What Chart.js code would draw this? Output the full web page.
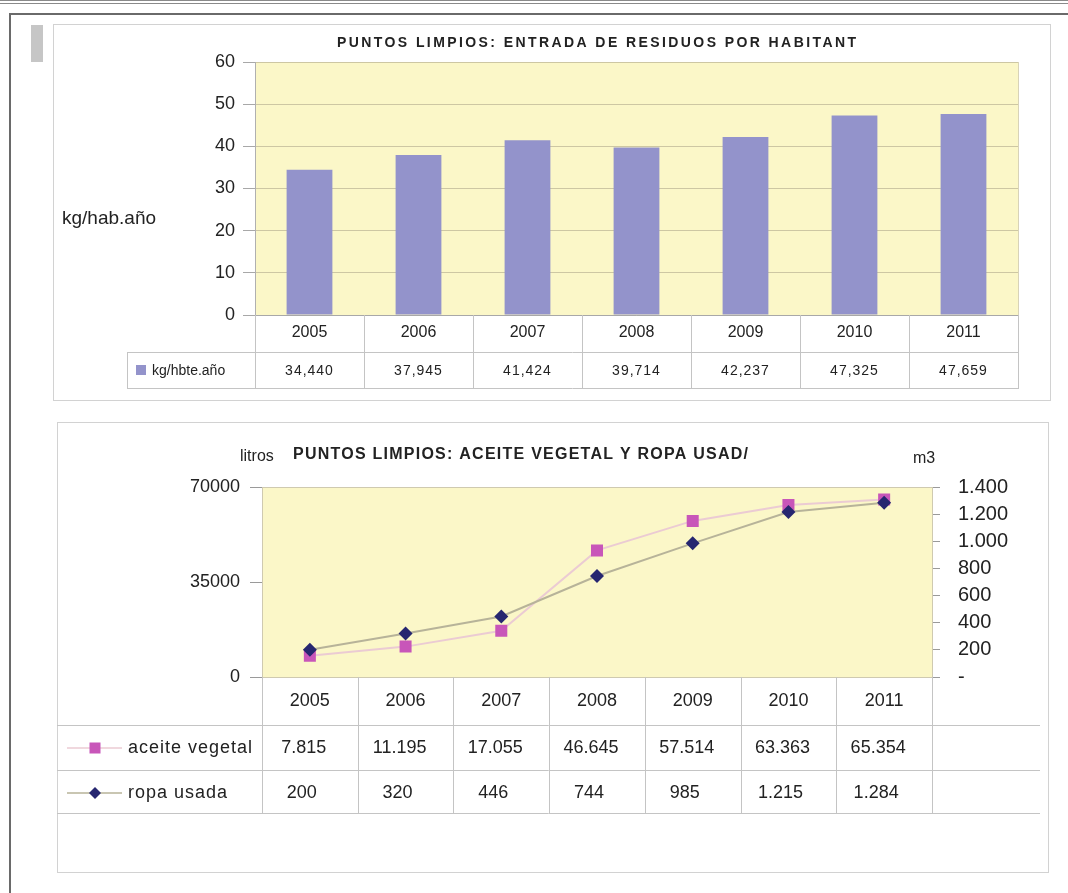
<!DOCTYPE html>
<html>
<head>
<meta charset="utf-8">
<script src="https://cdn.jsdelivr.net/npm/chart.js@4.4.0/dist/chart.umd.min.js"></script>
<style>
body { margin:0; background:#fff; width:1068px; height:893px; position:relative; overflow:hidden; }
#linea { position:absolute; left:0; top:0; width:1068px; height:2px; border-top:1px solid #8a8a8a; border-bottom:1px solid #8a8a8a; }
#marco { position:absolute; left:9px; top:13px; width:1070px; height:900px; border-left:2px solid #6a6a6a; border-top:2px solid #6a6a6a; }
#pestana { position:absolute; left:31px; top:25px; width:12px; height:37px; background:#c6c6c6; }
#caja1 { position:absolute; left:53px; top:24px; width:996px; height:375px; border:1px solid #d2d2d2; }
#caja2 { position:absolute; left:57px; top:422px; width:990px; height:449px; border:1px solid #d2d2d2; }
canvas { position:absolute; left:0; top:0; }
</style>
</head>
<body>
<div id="linea"></div>
<div id="marco"></div>
<div id="pestana"></div>
<div id="caja1"></div>
<div id="caja2"></div>
<canvas id="grafico1" width="1068" height="893"></canvas>
<canvas id="grafico2" width="1068" height="893"></canvas>
<script>
const anios = ['2005', '2006', '2007', '2008', '2009', '2010', '2011'];
const kgHabitante = [34.440, 37.945, 41.424, 39.714, 42.237, 47.325, 47.659];
const ticksKg = [0, 10, 20, 30, 40, 50, 60];
const aceiteVegetal = [7815, 11195, 17055, 46645, 57514, 63363, 65354];
const ropaUsada = [200, 320, 446, 744, 985, 1215, 1284];
const ticksLitros = [0, 35000, 70000];
const ticksM3 = [0, 200, 400, 600, 800, 1000, 1200, 1400];

const FUENTE = 'Arial, "Liberation Sans", sans-serif';
const AMARILLO = '#fbf7c8';
const LINEA_TABLA = '#c4c4c4';

const conComa = v => v.toFixed(3).replace('.', ',');
const conPunto = v => String(v).replace(/\B(?=(\d{3})+(?!\d))/g, '.');

// texto repartido entre x1 y x2 (titulos con espaciado ancho)
function textoAncho(ctx, texto, x1, x2, y) {
    ctx.letterSpacing = '0px';
    const w = ctx.measureText(texto).width;
    const sp = (x2 - x1 - w) / (texto.length - 1);
    ctx.letterSpacing = sp + 'px';
    ctx.textAlign = 'left';
    ctx.fillText(texto, x1, y);
    ctx.letterSpacing = '0px';
}

function linea(ctx, x1, y1, x2, y2) {
    ctx.beginPath();
    ctx.moveTo(x1, y1);
    ctx.lineTo(x2, y2);
    ctx.stroke();
}

const fondo = {
    id: 'fondo',
    beforeDraw(chart) {
        const a = chart.chartArea;
        chart.ctx.save();
        chart.ctx.fillStyle = AMARILLO;
        chart.ctx.fillRect(a.left, a.top, a.right - a.left, a.bottom - a.top);
        chart.ctx.restore();
    }
};

function bordes(x) {
    const paso = x.getPixelForValue(1) - x.getPixelForValue(0);
    const res = anios.map((_, i) => x.getPixelForValue(i) - paso / 2);
    res.push(x.getPixelForValue(anios.length - 1) + paso / 2);
    return res;
}

const tabla1 = {
    id: 'tabla1',
    afterDraw(chart) {
        const ctx = chart.ctx, a = chart.chartArea, x = chart.scales.x;
        const ed = bordes(x);
        ctx.save();
        ctx.lineWidth = 1;
        ctx.strokeStyle = '#a8a8a8';
        linea(ctx, a.left, a.bottom + 0.5, a.right, a.bottom + 0.5);
        ctx.strokeStyle = '#d8d3b8';
        linea(ctx, a.right + 0.5, a.top, a.right + 0.5, a.bottom);
        ctx.strokeStyle = LINEA_TABLA;
        linea(ctx, 127, 352.5, a.right, 352.5);
        linea(ctx, 127, 388.5, a.right, 388.5);
        linea(ctx, 127.5, 352, 127.5, 389);
        ed.forEach(e => linea(ctx, Math.round(e) + 0.5, a.bottom, Math.round(e) + 0.5, 389));

        ctx.fillStyle = '#222';
        ctx.textBaseline = 'middle';
        ctx.textAlign = 'center';
        ctx.font = '16px ' + FUENTE;
        anios.forEach((t, i) => ctx.fillText(t, x.getPixelForValue(i), 333));
        ctx.font = '14px ' + FUENTE;
        ctx.letterSpacing = '1px';
        kgHabitante.forEach((v, i) => ctx.fillText(conComa(v), x.getPixelForValue(i), 371));
        ctx.letterSpacing = '0px';

        ctx.fillStyle = chart.data.datasets[0].backgroundColor;
        ctx.fillRect(136, 365, 10, 10);
        ctx.fillStyle = '#222';
        ctx.textAlign = 'left';
        ctx.font = '14px ' + FUENTE;
        ctx.fillText(chart.data.datasets[0].label, 152, 371);

        ctx.font = 'bold 14px ' + FUENTE;
        textoAncho(ctx, 'PUNTOS LIMPIOS: ENTRADA DE RESIDUOS POR HABITANT', 337, 856, 43);

        ctx.font = '19px ' + FUENTE;
        ctx.textAlign = 'left';
        ctx.fillText('kg/hab.año', 62, 219);
        ctx.restore();
    }
};

new Chart(document.getElementById('grafico1'), {
    type: 'bar',
    data: {
        labels: anios,
        datasets: [{
            label: 'kg/hbte.año',
            data: kgHabitante,
            backgroundColor: '#9393cb',
            barPercentage: 0.42,
            categoryPercentage: 1
        }]
    },
    options: {
        responsive: false,
        animation: false,
        layout: { padding: { left: 0, right: 50, top: 62, bottom: 578 } },
        plugins: { legend: { display: false }, tooltip: { enabled: false } },
        scales: {
            x: { display: false },
            y: {
                min: 0,
                max: 60,
                afterBuildTicks: s => { s.ticks = ticksKg.map(v => ({ value: v })); },
                afterFit: s => { s.width = 255; },
                ticks: { font: { size: 18, family: FUENTE }, color: '#222', padding: 8 },
                grid: { color: '#cdc7a3', tickColor: '#a8a8a8', tickLength: 12 },
                border: { color: '#b0b0b0' }
            }
        }
    },
    plugins: [fondo, tabla1]
});

// marcadores de la leyenda de la tabla
function cuadrado(ctx, x, y, lado, color) {
    ctx.fillStyle = color;
    ctx.fillRect(x - lado / 2, y - lado / 2, lado, lado);
}
function rombo(ctx, x, y, r, color) {
    ctx.fillStyle = color;
    ctx.beginPath();
    ctx.moveTo(x, y - r);
    ctx.lineTo(x + r, y);
    ctx.lineTo(x, y + r);
    ctx.lineTo(x - r, y);
    ctx.closePath();
    ctx.fill();
}

const tabla2 = {
    id: 'tabla2',
    afterDraw(chart) {
        const ctx = chart.ctx, a = chart.chartArea, x = chart.scales.x;
        const ed = bordes(x);
        const dsA = chart.data.datasets[1], dsR = chart.data.datasets[0];
        ctx.save();
        ctx.lineWidth = 1;
        ctx.strokeStyle = '#cfcab0';
        ctx.strokeRect(a.left + 0.5, a.top + 0.5, a.right - a.left, a.bottom - a.top);
        ctx.strokeStyle = LINEA_TABLA;
        linea(ctx, 57, 725.5, 1040, 725.5);
        linea(ctx, 57, 770.5, 1040, 770.5);
        linea(ctx, 57, 813.5, 1040, 813.5);
        ed.forEach(e => linea(ctx, Math.round(e) + 0.5, a.bottom, Math.round(e) + 0.5, 814));

        ctx.fillStyle = '#222';
        ctx.textBaseline = 'middle';
        ctx.textAlign = 'center';
        ctx.font = '18px ' + FUENTE;
        anios.forEach((t, i) => ctx.fillText(t, x.getPixelForValue(i), 701));
        aceiteVegetal.forEach((v, i) => ctx.fillText(conPunto(v), x.getPixelForValue(i) - 6, 748));
        ropaUsada.forEach((v, i) => ctx.fillText(conPunto(v), x.getPixelForValue(i) - 8, 793));

        ctx.lineWidth = 1.5;
        ctx.strokeStyle = dsA.borderColor;
        linea(ctx, 67, 748, 122, 748);
        cuadrado(ctx, 95, 748, 11, dsA.pointBackgroundColor);
        ctx.strokeStyle = dsR.borderColor;
        linea(ctx, 67, 793, 122, 793);
        rombo(ctx, 95, 793, 6, dsR.pointBackgroundColor);

        ctx.fillStyle = '#222';
        ctx.textAlign = 'left';
        ctx.font = '18px ' + FUENTE;
        ctx.letterSpacing = '1px';
        ctx.fillText(dsA.label, 128, 748);
        ctx.fillText(dsR.label, 128, 793);
        ctx.letterSpacing = '0px';

        ctx.font = '16px ' + FUENTE;
        ctx.fillText('litros', 240, 457);
        ctx.fillText('m3', 913, 459);
        ctx.font = 'bold 16px ' + FUENTE;
        textoAncho(ctx, 'PUNTOS LIMPIOS: ACEITE VEGETAL Y ROPA USAD/', 293, 748, 455);
        ctx.restore();
    }
};

new Chart(document.getElementById('grafico2'), {
    type: 'line',
    data: {
        labels: anios,
        datasets: [{
            label: 'ropa usada',
            data: ropaUsada,
            yAxisID: 'y1',
            borderColor: '#b7b399',
            borderWidth: 2,
            tension: 0,
            pointStyle: 'rectRot',
            pointRadius: 7,
            pointBackgroundColor: '#262670',
            pointBorderColor: '#262670',
            pointBorderWidth: 0
        }, {
            label: 'aceite vegetal',
            data: aceiteVegetal,
            yAxisID: 'y',
            borderColor: '#ebcbd3',
            borderWidth: 2,
            tension: 0,
            pointStyle: 'rect',
            pointRadius: 8.5,
            pointBackgroundColor: '#c856b9',
            pointBorderColor: '#c856b9',
            pointBorderWidth: 0
        }]
    },
    options: {
        responsive: false,
        animation: false,
        layout: { padding: { left: 0, right: 0, top: 487, bottom: 216 } },
        plugins: { legend: { display: false }, tooltip: { enabled: false } },
        scales: {
            x: { display: false, offset: true },
            y: {
                position: 'left',
                min: 0,
                max: 70000,
                afterBuildTicks: s => { s.ticks = ticksLitros.map(v => ({ value: v })); },
                afterFit: s => { s.width = 262; },
                ticks: { font: { size: 18, family: FUENTE }, color: '#222', padding: 10, callback: v => String(v) },
                grid: { drawOnChartArea: false, color: '#9a9a9a', tickLength: 12 },
                border: { display: false }
            },
            y1: {
                position: 'right',
                min: 0,
                max: 1400,
                afterBuildTicks: s => { s.ticks = ticksM3.map(v => ({ value: v })); },
                afterFit: s => { s.width = 136; },
                ticks: {
                    font: { size: 20, family: FUENTE },
                    color: '#222',
                    padding: 18,
                    callback: v => v === 0 ? '-' : conPunto(v)
                },
                grid: { drawOnChartArea: false, color: '#9a9a9a', tickLength: 8 },
                border: { display: false }
            }
        }
    },
    plugins: [fondo, tabla2]
});
</script>
</body>
</html>
